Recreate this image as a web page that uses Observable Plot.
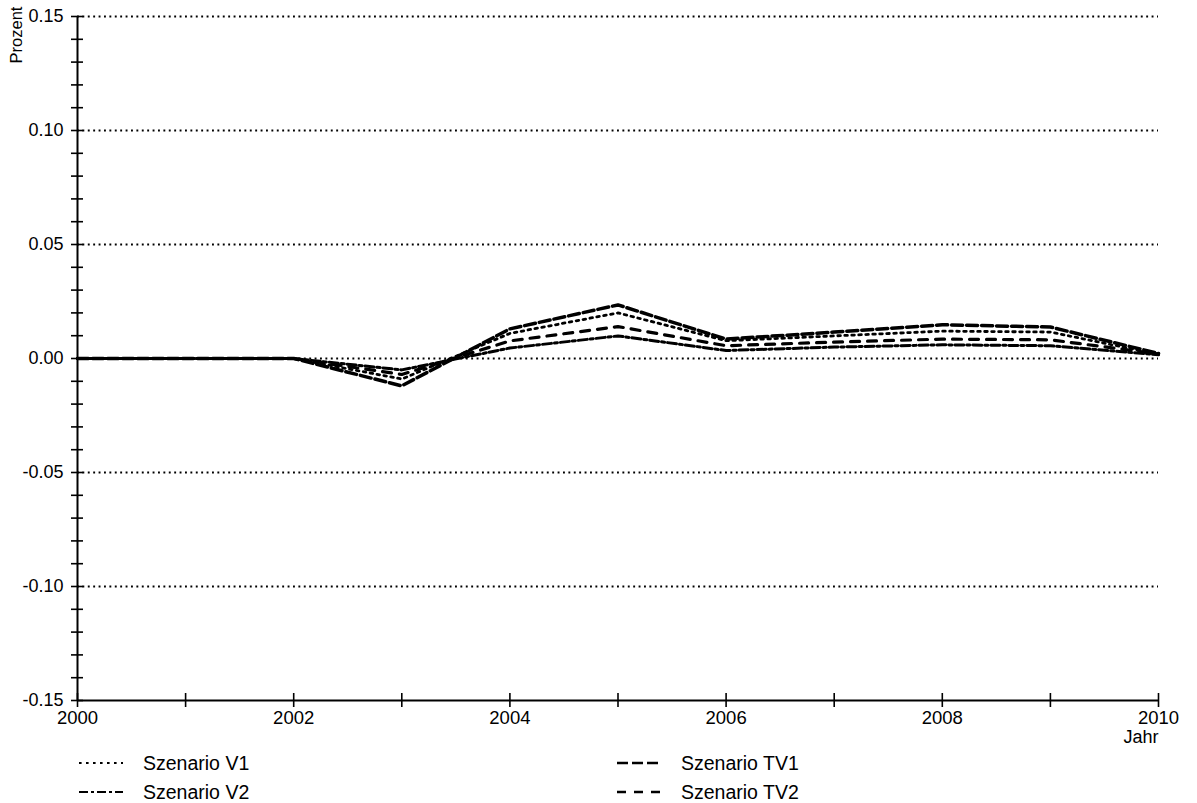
<!DOCTYPE html>
<html>
<head>
<meta charset="utf-8">
<script src="https://cdn.jsdelivr.net/npm/d3@7"></script>
<script src="https://cdn.jsdelivr.net/npm/@observablehq/plot@0.6"></script>
<style>
  html, body { margin: 0; padding: 0; background: #fff; }
  #page { position: relative; width: 1197px; height: 803px; overflow: hidden;
          font-family: "Liberation Sans", Arial, Helvetica, sans-serif; color: #000; }
  .item { position: absolute; font-size: 19.5px; line-height: 20px; white-space: nowrap; }
  .item svg { position: absolute; top: 5px; }
  .item span { position: absolute; }
  #ylabel { position: absolute; left: 16px; top: 35px; font-size: 16.5px; line-height: 16px;
            white-space: nowrap; transform: translate(-50%, -50%) rotate(-90deg); }
</style>
</head>
<body>
<div id="page"></div>
<script>
// Years on the horizontal axis
const years = [2000, 2001, 2002, 2003, 2004, 2005, 2006, 2007, 2008, 2009, 2010];

// Deviation in percent, one array per scenario
const szenarioV1  = [0, 0, 0, -0.009, 0.0110, 0.0200, 0.0078, 0.0099, 0.0120, 0.0116, 0.0018];
const szenarioV2  = [0, 0, 0, -0.005, 0.0046, 0.0099, 0.0035, 0.0050, 0.0060, 0.0056, 0.0016];
const szenarioTV1 = [0, 0, 0, -0.012, 0.0130, 0.0235, 0.0085, 0.0116, 0.0148, 0.0138, 0.0022];
const szenarioTV2 = [0, 0, 0, -0.007, 0.0077, 0.0140, 0.0056, 0.0072, 0.0085, 0.0082, 0.0020];

// Axis ticks and labels
const yLabelTicks = [-0.15, -0.10, -0.05, 0.00, 0.05, 0.10, 0.15];
const gridLevels  = [-0.10, -0.05, 0.00, 0.05, 0.10, 0.15];
const yMinorTicks = d3.range(-15, 16).map(k => k / 100);
const xLabelTicks = [2000, 2002, 2004, 2006, 2008, 2010];

const series = [
  {name: "Szenario V1",  values: szenarioV1,  dash: "2.6,4.4",  width: 2.8},
  {name: "Szenario V2",  values: szenarioV2,  dash: "9,3,3,3",  width: 3},
  {name: "Szenario TV1", values: szenarioTV1, dash: "11,4",     width: 3.5},
  {name: "Szenario TV2", values: szenarioTV2, dash: "9,8",      width: 3.2}
];

const toRows = vals => years.map((year, i) => ({year, value: vals[i]}));

const chart = Plot.plot({
  width: 1197,
  height: 750,
  marginLeft: 77,
  marginRight: 39,
  marginTop: 16,
  marginBottom: 50,
  style: {fontFamily: "'Liberation Sans', Arial, Helvetica, sans-serif", fontSize: "18px", color: "#000", background: "#fff", overflow: "visible"},
  x: {domain: [2000, 2010]},
  y: {domain: [-0.15, 0.15]},
  marks: [
    // dotted reference lines
    Plot.ruleY(gridLevels, {y: d => d, x1: 2000, x2: 2010, stroke: "#000", strokeWidth: 1.9, strokeDasharray: "1.9,3.5"}),
    // axis lines
    Plot.ruleX([2000], {y1: -0.15, y2: 0.15, stroke: "#000", strokeWidth: 2}),
    Plot.ruleY([-0.15], {x1: 2000, x2: 2010, stroke: "#000", strokeWidth: 2}),
    // tick marks crossing the axes
    Plot.ruleY(yMinorTicks, {y: d => d, x1: 2000, x2: 2000, insetLeft: -6, insetRight: -6, stroke: "#000", strokeWidth: 1.6}),
    Plot.ruleX(years, {x: d => d, y1: -0.15, y2: -0.15, insetTop: -7, insetBottom: -7, stroke: "#000", strokeWidth: 1.6}),
    Plot.axisY(yLabelTicks, {tickSize: 0, tickPadding: 14, tickFormat: d => d.toFixed(2), label: null, fontSize: 18}),
    Plot.axisX(xLabelTicks, {tickSize: 0, tickPadding: 10, tickFormat: d => String(d), label: null, fontSize: 18.5}),
    // scenario lines
    ...series.map(s => Plot.line(toRows(s.values), {
      x: "year", y: "value", stroke: "#000", strokeWidth: s.width,
      strokeDasharray: s.dash, strokeLinejoin: "miter"
    })),
    // horizontal axis title
    Plot.text(["Jahr"], {frameAnchor: "bottom-right", dy: 42, textAnchor: "end", fontSize: 18})
  ]
});

const page = document.getElementById("page");
page.appendChild(chart);
chart.style.position = "absolute";
chart.style.left = "0px";
chart.style.top = "0px";

// vertical axis title
const ylabel = document.createElement("div");
ylabel.id = "ylabel";
ylabel.textContent = "Prozent";
page.appendChild(ylabel);

// Legend below the chart, two columns
const legendPos = [
  {left: 79,  top: 753},
  {left: 79,  top: 782},
  {left: 617, top: 753},
  {left: 617, top: 782}
];
series.forEach((s, i) => {
  const item = document.createElement("div");
  item.className = "item";
  item.style.left = legendPos[i].left + "px";
  item.style.top = legendPos[i].top + "px";
  item.innerHTML =
    `<svg width="46" height="10" style="left:0"><line x1="0" y1="5" x2="44" y2="5" stroke="#000" stroke-width="${s.width - 0.8}" stroke-dasharray="${s.dash}"/></svg>` +
    `<span style="left:${64}px">${s.name}</span>`;
  page.appendChild(item);
});
</script>
</body>
</html>
